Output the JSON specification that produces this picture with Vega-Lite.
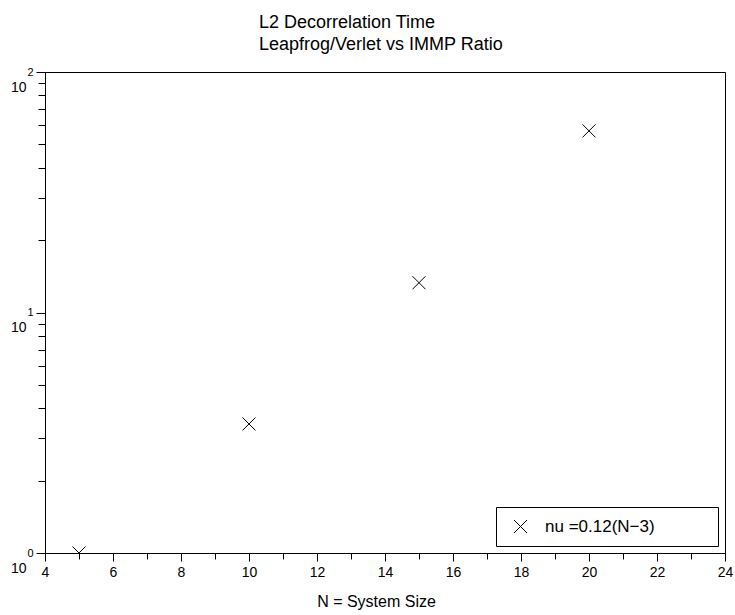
{
  "$schema": "https://vega.github.io/schema/vega-lite/v6.json",
  "width": 680,
  "height": 481,
  "autosize": "none",
  "padding": {"left": 45, "top": 72, "right": 10, "bottom": 62},
  "background": "white",
  "config": {
    "view": {"stroke": "black", "strokeWidth": 1},
    "font": "Liberation Sans",
    "axis": {
      "grid": false,
      "domainColor": "black",
      "tickColor": "black",
      "labelColor": "black",
      "titleColor": "black",
      "labelFont": "Liberation Sans",
      "titleFont": "Liberation Sans",
      "labelFontSize": 14,
      "titleFontSize": 16,
      "titleFontWeight": "normal",
      "labelFlush": false,
      "labelOverlap": false
    }
  },
  "title": {
    "text": ["L2 Decorrelation Time", "Leapfrog/Verlet vs IMMP Ratio"],
    "anchor": "start",
    "align": "left",
    "frame": "group",
    "dx": 214,
    "fontSize": 18,
    "lineHeight": 22,
    "fontWeight": "normal",
    "font": "Liberation Sans",
    "color": "black",
    "offset": 12
  },
  "data": {
    "values": [
      {"N": 5, "ratio": 1.0, "series": "nu =0.12(N−3)"},
      {"N": 10, "ratio": 3.44, "series": "nu =0.12(N−3)"},
      {"N": 15, "ratio": 13.3, "series": "nu =0.12(N−3)"},
      {"N": 20, "ratio": 56.9, "series": "nu =0.12(N−3)"}
    ]
  },
  "layer": [
    {
      "mark": {"type": "point", "shape": "M-1,-1L1,1M-1,1L1,-1", "filled": false, "size": 169, "strokeWidth": 1, "opacity": 1, "clip": true},
      "encoding": {
        "x": {
          "field": "N", "type": "quantitative",
          "scale": {"domain": [4, 24], "nice": false, "zero": false},
          "axis": {
            "orient": "bottom",
            "values": [4, 6, 8, 10, 12, 14, 16, 18, 20, 22, 24],
            "tickSize": 8,
            "labelPadding": 4,
            "title": "N = System Size",
            "titleX": 331,
            "titleY": 48,
            "titleBaseline": "middle",
            "titleAlign": "center"
          }
        },
        "y": {
          "field": "ratio", "type": "quantitative",
          "scale": {"type": "log", "domain": [1, 100], "nice": false},
          "axis": {
            "orient": "left",
            "values": [1, 10, 100],
            "tickSize": 9,
            "labelExpr": "'10'",
            "labelOffset": 15,
            "labelPadding": 10,
            "labelBaseline": "middle",
            "title": null
          }
        },
        "color": {
          "field": "series", "type": "nominal",
          "scale": {"range": ["black"]},
          "legend": {
            "orient": "bottom-right",
            "offset": 7,
            "title": "mmmm",
            "titleOrient": "right",
            "titleOpacity": 0,
            "titleFontSize": 14,
            "titlePadding": 2,
            "strokeColor": "black",
            "fillColor": "white",
            "padding": 11,
            "symbolType": "M-1,-1L1,1M-1,1L1,-1",
            "symbolSize": 169,
            "symbolStrokeWidth": 1,
            "symbolStrokeColor": "black",
            "symbolFillColor": "transparent",
            "symbolOffset": 5,
            "labelOffset": 16,
            "labelFont": "Liberation Sans",
            "labelFontSize": 17,
            "labelColor": "black"
          }
        }
      }
    },
    {
      "mark": {"type": "point", "opacity": 0},
      "encoding": {
        "x": {
          "field": "N", "type": "quantitative",
          "axis": {
            "orient": "bottom",
            "values": [5, 7, 9, 11, 13, 15, 17, 19, 21, 23],
            "tickSize": 6,
            "labels": false,
            "domain": false,
            "title": null
          }
        },
        "y": {
          "field": "ratio", "type": "quantitative",
          "axis": {
            "orient": "left",
            "values": [2, 3, 4, 5, 6, 7, 8, 9, 20, 30, 40, 50, 60, 70, 80, 90],
            "tickSize": 7,
            "labels": false,
            "domain": false,
            "title": null
          }
        }
      }
    },
    {
      "mark": {"type": "point", "opacity": 0},
      "encoding": {
        "x": {"field": "N", "type": "quantitative", "axis": null},
        "y": {
          "field": "ratio", "type": "quantitative",
          "axis": {
            "orient": "left",
            "values": [1, 10, 100],
            "ticks": false,
            "domain": false,
            "labelExpr": "'' + round(log(datum.value) / LN10)",
            "labelFontSize": 11,
            "labelPadding": 12,
            "labelOffset": 0,
            "labelBaseline": "middle",
            "title": null
          }
        }
      }
    }
  ],
  "resolve": {"axis": {"x": "independent", "y": "independent"}}
}
